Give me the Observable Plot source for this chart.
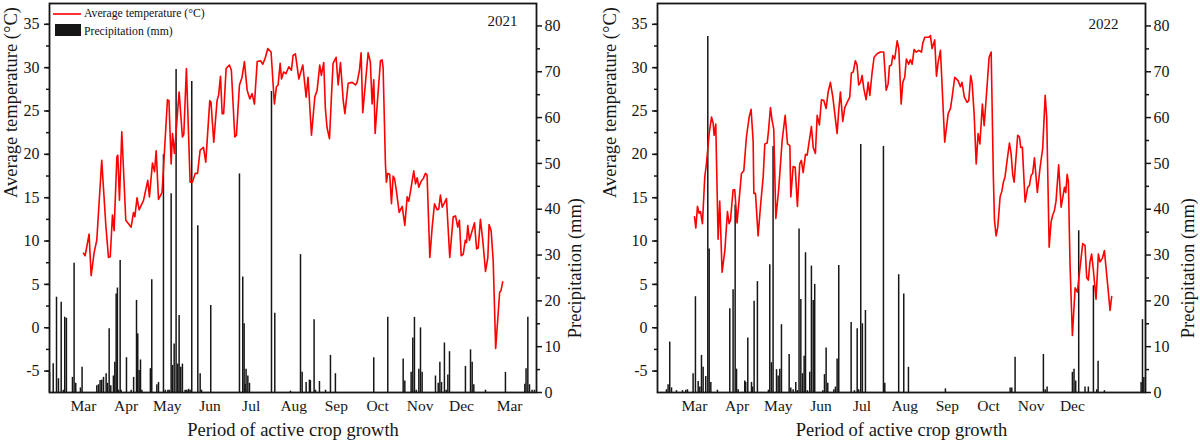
<!DOCTYPE html>
<html>
<head>
<meta charset="utf-8">
<script src="https://cdn.jsdelivr.net/npm/d3@7"></script>
<script src="https://cdn.jsdelivr.net/npm/@observablehq/plot@0.6"></script>
<style>
  html, body { margin: 0; padding: 0; background: #fff; }
  #fig { position: relative; width: 1200px; height: 447px; font-family: "Liberation Serif", "DejaVu Serif", serif; }
  #fig svg, #fig svg text { font-family: "Liberation Serif", "DejaVu Serif", serif !important; }
  .panel { position: absolute; top: 0; width: 600px; height: 447px; }
  .panel svg { position: absolute; top: 0; left: 0; }
  .legend { position: absolute; left: 53px; top: 6px; font-size: 11.7px; color: #111; line-height: 1; }
  .legend .row { position: relative; height: 20px; }
  .legend .sw { position: absolute; left: 0; }
  .legend .lab { position: absolute; left: 31px; white-space: nowrap; }
</style>
</head>
<body>
<div id="fig">
  <div class="panel" id="p21" style="left:0"></div>
  <div class="panel" id="p22" style="left:600px"></div>
</div>
<script>
// ---- axes / labels ----
const tempTicks = [-5, 0, 5, 10, 15, 20, 25, 30, 35];
const tempMinor = [-5, -2.5, 0, 2.5, 5, 7.5, 10, 12.5, 15, 17.5, 20, 22.5, 25, 27.5, 30, 32.5, 35];
const precipTicks = [0, 10, 20, 30, 40, 50, 60, 70, 80];
const precipMinor = [5, 15, 25, 35, 45, 55, 65, 75];
const monthTicks21 = [0, 31, 61, 92, 122, 153, 184, 214, 245, 275, 310];
const monthLabels21 = ["Mar", "Apr", "May", "Jun", "Jul", "Aug", "Sep", "Oct", "Nov", "Dec", "Mar"];
const monthTicks22 = [0, 31, 61, 92, 122, 153, 184, 214, 245, 275];
const monthLabels22 = ["Mar", "Apr", "May", "Jun", "Jul", "Aug", "Sep", "Oct", "Nov", "Dec"];

// ---- 2021 average temperature (day since 1 Mar, °C) ----
const t21Day = [0,1.2,4.1,5.6,7.8,9.7,13.3,16.2,18.2,19.5,21.1,22.3,24.3,25,26.2,27.9,30.8,34.7,36.4,37.4,39,40.5,43.7,46.8,48,50.2,51.7,52.9,54.6,57.2,61.1,62.2,63.8,64.8,66.2,69.6,72,73,74.9,77.6,79.3,81.3,83,84.9,87.3,89,
  91.9,92.8,94.8,97.2,98.3,99.7,100.9,102,103.8,106.2,107.6,110.1,111.3,113.5,115.4,117.1,119.1,121,122.7,124.4,126.4,128.8,130.5,132.4,134.1,136.5,138.9,140.4,141.6,143.1,144.1,145.6,147.3,149.4,151.3,152.5,154.2,156.7,159.6,162,163.4,165.9,168.3,170,171.9,173.1,174.8,176,177.2,179,180.4,181.6,183.8,185.3,187,189,190.2,192.6,195.5,197.9,199.1,200.8,202,203.2,205.2,207.1,208.7,
  210,211.2,212.2,214.1,216.1,217.3,218,219.7,220.4,221.4,222.8,224.1,225.3,226.3,227.5,229.7,231.9,233.8,235.5,236.7,238.4,240.3,241.6,242.8,244,245.7,247.2,248.8,250,252,253.7,255.4,257.3,258.5,259.7,261,262.6,264.1,266.5,269,270.7,272.3,273.5,274.8,276.3,277.8,278.7,279.6,280.8,282.8,284.5,286,287.2,288.8,290.5,292.5,294.2,295.1,296.6,298.1,299.9,302.8,303.8,305];
const t21Val = [8.6,8.3,10.8,6.0,8.7,10.1,19.3,12.0,8.1,8.2,13.0,11.2,19.7,19.9,14.7,22.6,12.4,11.6,13.3,12.8,15.0,13.6,14.7,17.0,15.1,19.0,18.0,20.4,14.8,15.6,26.3,26.2,18.9,22.4,20.1,27.2,22.0,22.3,29.9,16.8,16.8,17.8,17.8,20.5,20.8,19.1,
  26.2,26.0,21.4,26.2,26.8,29.0,24.7,24.7,29.9,30.3,29.7,22.0,22.2,28.0,28.9,30.7,27.4,26.4,27.0,25.8,30.7,30.8,30.4,31.2,32.2,31.8,25.8,27.8,28.0,30.5,28.7,29.5,29.3,30.1,29.7,31.4,31.6,28.7,30.3,26.6,28.9,22.2,26.6,27.4,30.3,29.1,30.6,25.3,23.1,21.8,26.6,30.5,31.2,28.0,30.6,26.2,24.7,28.2,28.3,28.0,28.3,29.7,31.7,24.8,28.3,31.7,30.7,
  25.8,28.6,22.4,26.6,30.8,30.9,30.0,18.9,16.8,17.8,17.7,14.3,17.5,17.2,16.0,13.3,14.0,11.8,15.1,14.6,16.2,18.1,16.6,17.3,16.2,16.9,17.2,17.8,17.6,8.1,11.6,14.3,13.6,13.7,15.3,13.9,14.4,14.9,8.1,12.8,12.9,11.6,12.4,8.3,8.5,10.1,9.8,11.8,10.1,11.2,12.1,9.1,9.2,12.5,10.1,6.5,8.1,11.9,11.2,7.7,-2.4,4.1,4.3,5.3];

// ---- 2021 precipitation (day since 1 Mar, mm) ----
const p21Day = [-24.7,-22,-19.6,-18.2,-16.2,-14.6,-13.6,-12.4,-8,-6.8,-5.6,-2.2,-1,9.7,10.9,12.1,13.3,14.6,16.5,17.5,18.7,19.9,21.8,22.8,23.8,24.7,25.5,26.7,27.4,31.3,34.7,36.5,38.6,39.5,40.5,41.5,42.5,48.7,49.7,53.4,54.6,58.2,59.5,61.4,62.4,63.8,64.8,66,67.4,68.6,69.6,70.8,72,74,75.2,76.5,77.6,78.8,83.2,84.9,85.9,92.6,
  113.5,115.9,116.9,117.6,118.3,119.6,120.8,136.8,139.2,150.6,157.9,159.1,162,164.4,165.1,167.8,168.8,171.7,176.1,179.7,183.3,211.2,221.4,232.6,233.8,238.4,239.6,240.8,242.1,244,245.2,246.4,256.1,258.1,259.3,260.5,262.6,263.9,265.1,266.3,277.9,281.6,282.8,284,292.5,307,321.1,322,323.3,324.5,326.4,328.1];
const p21Val = [4.4,6.3,20.8,3.0,19.7,0.5,16.4,16.2,3.3,28.2,2.0,1.0,5.5,1.5,1.7,2.6,2.7,3.3,4.1,2.0,13.9,1.5,3.6,6.6,21.5,22.8,0.5,28.8,0.5,7.6,0.5,3.3,20.1,12.8,4.8,7.1,0.5,5.2,24.6,1.7,2.2,51.9,0.5,0.5,0.5,43.4,5.9,10.6,70.5,6.2,16.8,5.5,6.2,0.5,0.5,0.7,0.5,67.9,36.4,4.1,0.5,19.0,
  47.7,25.2,15.0,1.8,5.1,3.6,2.0,65.7,17.3,0.3,30.1,4.4,2.2,2.7,2.6,15.9,0.5,2.4,0.5,8.1,4.1,7.6,16.4,7.3,2.5,4.4,11.9,16.4,0.5,5.1,14.1,4.4,3.6,2.0,6.6,2.2,10.8,0.5,3.8,8.9,5.7,9.3,6.6,1.7,0.5,4.4,1.8,5.2,16.4,1.7,0.5,0.5];

// ---- 2022 average temperature ----
const t22Day = [0,1,2.2,3.4,4.4,5.8,7.5,8.7,10.7,12.4,13.6,14.3,15.5,17.2,18.4,20.1,22.1,24,25.2,26.2,28.1,29.3,31,34.2,35.9,37.8,39.8,41.2,42.7,43.2,44.4,46.3,48.2,50,51.2,52.9,53.8,55.3,56.5,57.7,59.2,61.3,63.8,66,67.7,69.4,70.1,71.8,73.3,74.9,76.6,77.8,79.1,80.8,82,83.4,85.1,86.4,88,89.3,90.9,92.4,94.1,95.8,97.3,98.9,100.6,102.1,103.8,105,106.2,107.9,109.4,111.1,113,114.2,115.5,117.1,118.3,119.5,120.8,122,123.2,124.9,126.4,127.6,129.3,130.7,132.9,135.3,137.7,139.5,140.9,141.9,143.3,144.3,145.7,147.5,148.7,150.4,151.6,153,154.2,155.9,157.1,158.4,159.8,161.3,163.2,165.2,166.1,167.6,170.5,171.7,172.9,174.8,176.1,177.3,179,182.1,184.6,186.3,187.5,189.4,191.8,193.5,194.7,196.4,198.4,199.6,201,202,203.5,205,206.4,207.7,209.5,210.8,
  212.7,214.4,215.9,217.5,218.3,219.5,220.7,222.4,223.6,224.8,226,227.5,229.2,230.4,231.6,232.6,234,235.2,236.5,237.4,238.6,240.6,242.5,243.7,245,246.1,247.4,249.5,251.5,253.4,255.2,256.3,258.1,259.5,260.7,261.9,263.1,265,266.8,268,269.2,270.2,271.2,272.1,273.3,275,277,278.6,280.6,282.5,284.2,285.4,286.6,287.8,289,290.3,292.2,293.9,295.1,296.8,298.3,300.7,302.4,303.6];
const t22Val = [12.8,11.5,14.0,13.2,13.4,12.0,17.4,18.9,22.4,24.3,23.6,22.2,23.5,10.2,14.6,6.4,8.9,13.4,12.0,12.4,15.9,15.9,12.1,17.8,18.1,22.0,24.3,25.2,21.5,15.5,15.5,10.6,14.3,17.4,21.2,21.3,22.6,25.4,23.9,22.9,12.6,16.0,21.6,24.5,21.2,21.0,15.1,18.6,18.5,14.0,18.9,19.3,17.9,20.0,19.9,21.4,23.2,20.8,20.1,24.5,23.4,26.3,26.2,25.3,27.2,28.3,26.7,24.7,22.4,25.1,27.2,23.8,25.4,26.0,26.6,29.4,29.5,30.8,30.3,28.0,28.3,29.1,27.6,26.3,28.3,26.8,29.5,31.2,31.6,31.8,31.8,27.4,28.1,30.2,30.3,31.4,31.0,33.1,32.2,25.8,28.3,28.9,31.0,30.4,30.9,30.4,32.1,31.8,32.0,31.8,32.8,33.5,33.5,33.7,32.2,33.2,29.0,30.6,32.0,21.4,24.7,25.3,26.6,28.9,28.5,27.8,28.3,26.6,26.0,26.2,29.1,28.3,24.7,18.9,22.4,21.2,25.8,23.3,
  27.4,31.2,31.8,17.4,12.4,10.6,11.6,15.1,15.7,16.8,17.4,19.3,21.3,20.1,17.6,16.8,19.7,22.2,22.0,20.8,20.8,14.5,16.2,16.4,17.6,17.8,19.6,15.6,18.5,20.7,26.8,24.3,9.3,12.2,13.0,13.5,14.6,18.8,13.9,15.0,16.2,15.6,17.7,16.8,7.2,-0.9,4.6,4.1,7.0,9.7,9.5,5.8,5.5,7.6,8.5,6.6,3.3,8.5,7.6,8.0,8.9,4.9,2.0,3.6];

// ---- 2022 precipitation ----
const p22Day = [-20.4,-19.2,-18,-16.7,-13.1,-8.7,-6.3,-5.1,-1,0.7,2.7,3.9,5.1,6.3,8.2,9.7,10.7,11.9,16.7,25.7,28.1,29.6,30.6,31.8,36.6,37.3,38.8,41.5,42.2,43.4,45.8,53.8,54.8,56,57.2,59.7,60.9,62.1,63.3,68.9,70.1,71.8,73.7,74.9,76.1,77.4,78.6,79.8,80.8,82.2,83.9,85.1,86.4,87.5,
  93.4,94.6,95.8,97,101.4,102.6,103.8,105,114,116.4,118.4,119.5,121,122.2,124.4,137.5,138.5,148.6,152.3,155.7,182.6,229.7,230.9,233.3,253.9,255.2,256.6,275,276.2,277.4,279.6,284.2,286.6,290.3,292.7,293.7,298.3,325,326,327];
const p22Val = [0.6,1.7,11.0,1.0,0.4,0.4,0.5,0.6,4.1,20.9,2.4,1.2,8.1,5.5,3.5,77.7,31.3,2.2,0.5,18.3,22.4,40.9,5.1,0.6,2.5,2.2,11.9,2.2,1.2,19.9,24.2,0.5,27.9,6.5,53.7,5.0,3.6,5.1,14.8,8.3,1.0,0.6,2.2,0.4,35.7,20.3,4.1,7.9,30.5,0.4,4.4,27.6,20.1,23.6,
  0.4,3.9,9.7,2.0,0.6,1.2,7.3,27.7,15.3,0.4,13.9,0.6,54.1,15.0,17.9,53.7,2.0,25.7,21.5,5.5,0.8,1.0,1.0,7.7,8.3,0.6,1.2,4.4,5.1,2.5,35.3,1.2,1.2,23.3,0.6,6.8,0.4,2.2,15.9,3.3];

const FONT = "'Liberation Serif', 'DejaVu Serif', serif";
const INK = "#161616";

function panel(el, cfg) {
  const temp = cfg.tDay.map((d, i) => ({day: d, t: cfg.tVal[i]}));
  const prec = cfg.pDay.map((d, i) => ({day: d, mm: cfg.pVal[i]}));
  const common = {
    width: 600, height: 447,
    marginLeft: cfg.mL, marginRight: cfg.mR, marginTop: 3, marginBottom: 55,
    style: {fontFamily: FONT, background: "transparent", color: INK, overflow: "visible"}
  };
  const precipPlot = Plot.plot({
    ...common,
    x: {domain: cfg.domain, axis: null},
    y: {domain: [0, 84.9], axis: null},
    marks: [
      Plot.ruleX(prec, {x: "day", y1: 0, y2: "mm", stroke: INK, strokeWidth: 1.5}),
      Plot.axisY({anchor: "right", ticks: precipTicks, tickSize: 5, tickPadding: 3, tickFormat: d => String(d), label: null, fontSize: 16, strokeWidth: 1.5}),
      Plot.axisY({anchor: "right", ticks: precipMinor, tickSize: 3, tickFormat: () => "", label: null, strokeWidth: 1.5}),
      Plot.text(["Precipitation (mm)"], {text: d => d, frameAnchor: "right", dx: cfg.rTitleDx, rotate: -90, fontSize: 18.5, fill: INK})
    ]
  });
  const tempPlot = Plot.plot({
    ...common,
    x: {domain: cfg.domain},
    y: {domain: [-7.47, 37.4]},
    marks: [
      Plot.line(temp, {x: "day", y: "t", stroke: "#ff0000", strokeWidth: 1.6}),
      Plot.frame({stroke: INK, strokeWidth: 1.8}),
      Plot.axisY({anchor: "left", ticks: tempTicks, tickSize: 5, tickPadding: 5, tickFormat: d => String(d), label: null, fontSize: 16, strokeWidth: 1.5}),
      Plot.axisY({anchor: "left", ticks: tempMinor, tickSize: 3, tickFormat: () => "", label: null, strokeWidth: 1.5}),
      Plot.axisX({anchor: "bottom", ticks: cfg.ticks, tickSize: 0, tickPadding: 7, tickFormat: d => cfg.labels[cfg.ticks.indexOf(d)], label: null, fontSize: 15.5}),
      Plot.text(["Average temperature (°C)"], {text: d => d, frameAnchor: "left", dx: cfg.lTitleDx, rotate: -90, fontSize: 18.5, fill: INK}),
      Plot.text(["Period of active crop growth"], {text: d => d, frameAnchor: "bottom", dy: 43, fontSize: 18.5, fill: INK}),
      Plot.text([cfg.year], {text: d => d, frameAnchor: "top-right", dx: cfg.yearDx, dy: cfg.yearDy, textAnchor: "end", fontSize: 15, fill: INK})
    ]
  });
  el.appendChild(precipPlot);
  el.appendChild(tempPlot);
}

panel(document.getElementById("p21"), {
  tDay: t21Day, tVal: t21Val, pDay: p21Day, pVal: p21Val,
  ticks: monthTicks21, labels: monthLabels21,
  domain: [-24.7, 329.6], mL: 49, mR: 64,
  lTitleDx: -38, rTitleDx: 39, year: "2021", yearDx: -19, yearDy: 12
});
panel(document.getElementById("p22"), {
  tDay: t22Day, tVal: t22Val, pDay: p22Day, pVal: p22Val,
  ticks: monthTicks22, labels: monthLabels22,
  domain: [-26.9, 328.2], mL: 57, mR: 55,
  lTitleDx: -47, rTitleDx: 43, year: "2022", yearDx: -27, yearDy: 15
});

// legend (left panel only)
const lg = document.createElement("div");
lg.className = "legend";
lg.innerHTML =
  '<div class="row"><svg class="sw" width="28" height="20" style="top:-2px"><line x1="0" y1="10" x2="28" y2="10" stroke="#ff0000" stroke-width="1.6"/></svg><span class="lab" style="top:2px">Average temperature (°C)</span></div>' +
  '<div class="row"><svg class="sw" width="28" height="14" style="top:-4px;left:2px"><rect x="0" y="2" width="26" height="12" fill="#161616"/></svg><span class="lab" style="top:0px">Precipitation (mm)</span></div>';
document.getElementById("p21").appendChild(lg);
</script>
</body>
</html>
